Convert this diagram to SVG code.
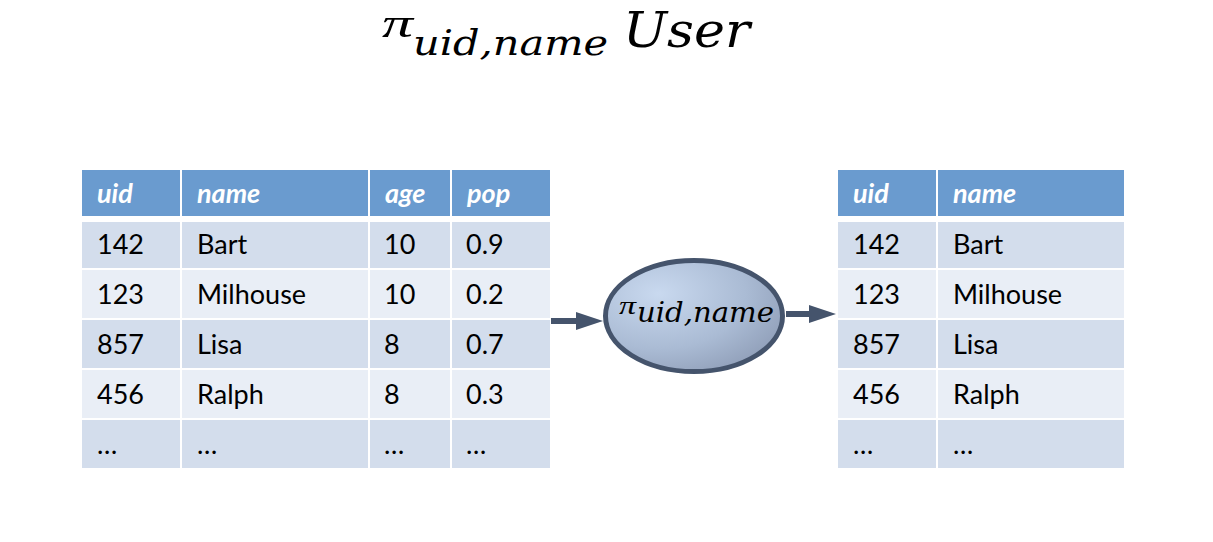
<svg xmlns="http://www.w3.org/2000/svg" width="1213" height="542" viewBox="0 0 1213 542">
<style>
.hd{fill:#6A9BCF}
.d{fill:#D3DDEC}
.l{fill:#E9EEF6}
.ht{font-family:Lato,"Open Sans",sans-serif;font-size:27px;font-weight:bold;font-style:italic;fill:#FFFFFF}
.ct{font-family:Lato,"Open Sans",sans-serif;font-size:27px;fill:#000000}
.m{font-family:"DejaVu Serif","Liberation Serif",serif;font-style:italic;fill:#000000}
.pi{font-family:"Liberation Serif","DejaVu Serif",serif;font-style:italic;fill:#000000}
.conn{stroke:#45546C;stroke-width:6;fill:none}
</style>
<defs>
<marker id="ah" viewBox="0 0 27 18" markerWidth="27" markerHeight="18" refX="0" refY="9" markerUnits="userSpaceOnUse" orient="auto">
<path d="M0,0 L27,9 L0,18 z" fill="#45546C"/>
</marker>
<radialGradient id="eg" cx="0.3" cy="0.3" r="0.9">
<stop offset="0" stop-color="#C9D9EF"/>
<stop offset="0.55" stop-color="#AABBD4"/>
<stop offset="1" stop-color="#8896B0"/>
</radialGradient>
</defs>
<rect width="1213" height="542" fill="#FFFFFF"/>

<g id="title">
<text class="pi" x="382" y="37" font-size="41" textLength="31" lengthAdjust="spacingAndGlyphs">π</text>
<text class="m" x="413" y="55" font-size="36" textLength="195" lengthAdjust="spacingAndGlyphs">uid,name</text>
<text class="m" x="623" y="47" font-size="48" textLength="127" lengthAdjust="spacingAndGlyphs">User</text>
</g>

<g id="user-table">
<rect class="hd" x="82" y="170" width="98" height="46"/>
<rect class="hd" x="182" y="170" width="186" height="46"/>
<rect class="hd" x="370" y="170" width="80" height="46"/>
<rect class="hd" x="452" y="170" width="98" height="46"/>
<text class="ht" x="97" y="203">uid</text>
<text class="ht" x="197" y="203">name</text>
<text class="ht" x="385" y="203">age</text>
<text class="ht" x="467" y="203">pop</text>

<rect class="d" x="82" y="222" width="98" height="46"/>
<rect class="d" x="182" y="222" width="186" height="46"/>
<rect class="d" x="370" y="222" width="80" height="46"/>
<rect class="d" x="452" y="222" width="98" height="46"/>
<rect class="l" x="82" y="270" width="98" height="48"/>
<rect class="l" x="182" y="270" width="186" height="48"/>
<rect class="l" x="370" y="270" width="80" height="48"/>
<rect class="l" x="452" y="270" width="98" height="48"/>
<rect class="d" x="82" y="320" width="98" height="48"/>
<rect class="d" x="182" y="320" width="186" height="48"/>
<rect class="d" x="370" y="320" width="80" height="48"/>
<rect class="d" x="452" y="320" width="98" height="48"/>
<rect class="l" x="82" y="370" width="98" height="48"/>
<rect class="l" x="182" y="370" width="186" height="48"/>
<rect class="l" x="370" y="370" width="80" height="48"/>
<rect class="l" x="452" y="370" width="98" height="48"/>
<rect class="d" x="82" y="420" width="98" height="48"/>
<rect class="d" x="182" y="420" width="186" height="48"/>
<rect class="d" x="370" y="420" width="80" height="48"/>
<rect class="d" x="452" y="420" width="98" height="48"/>

<text class="ct" x="97" y="254">142</text><text class="ct" x="197" y="254">Bart</text><text class="ct" x="384" y="254">10</text><text class="ct" x="466" y="254">0.9</text>
<text class="ct" x="97" y="304">123</text><text class="ct" x="197" y="304">Milhouse</text><text class="ct" x="384" y="304">10</text><text class="ct" x="466" y="304">0.2</text>
<text class="ct" x="97" y="354">857</text><text class="ct" x="197" y="354">Lisa</text><text class="ct" x="384" y="354">8</text><text class="ct" x="466" y="354">0.7</text>
<text class="ct" x="97" y="404">456</text><text class="ct" x="197" y="404">Ralph</text><text class="ct" x="384" y="404">8</text><text class="ct" x="466" y="404">0.3</text>
<text class="ct" x="97" y="454">…</text><text class="ct" x="197" y="454">…</text><text class="ct" x="384" y="454">…</text><text class="ct" x="466" y="454">…</text>
</g>

<g id="result-table">
<rect class="hd" x="838" y="170" width="98" height="46"/>
<rect class="hd" x="938" y="170" width="186" height="46"/>
<text class="ht" x="853" y="203">uid</text>
<text class="ht" x="953" y="203">name</text>
<rect class="d" x="838" y="222" width="98" height="46"/>
<rect class="d" x="938" y="222" width="186" height="46"/>
<rect class="l" x="838" y="270" width="98" height="48"/>
<rect class="l" x="938" y="270" width="186" height="48"/>
<rect class="d" x="838" y="320" width="98" height="48"/>
<rect class="d" x="938" y="320" width="186" height="48"/>
<rect class="l" x="838" y="370" width="98" height="48"/>
<rect class="l" x="938" y="370" width="186" height="48"/>
<rect class="d" x="838" y="420" width="98" height="48"/>
<rect class="d" x="938" y="420" width="186" height="48"/>
<text class="ct" x="853" y="254">142</text><text class="ct" x="953" y="254">Bart</text>
<text class="ct" x="853" y="304">123</text><text class="ct" x="953" y="304">Milhouse</text>
<text class="ct" x="853" y="354">857</text><text class="ct" x="953" y="354">Lisa</text>
<text class="ct" x="853" y="404">456</text><text class="ct" x="953" y="404">Ralph</text>
<text class="ct" x="853" y="454">…</text><text class="ct" x="953" y="454">…</text>
</g>

<g id="projection">
<ellipse cx="694" cy="316" rx="88.5" ry="55.5" fill="url(#eg)" stroke="#45546C" stroke-width="5"/>
<text class="pi" x="619" y="314" font-size="26" textLength="17" lengthAdjust="spacingAndGlyphs">π</text>
<text class="m" x="637" y="322" font-size="27" textLength="137" lengthAdjust="spacingAndGlyphs">uid,name</text>
</g>

<g id="connectors">
<line class="conn" x1="551" y1="321" x2="576" y2="321" marker-end="url(#ah)"/>
<line class="conn" x1="786" y1="314" x2="809" y2="314" marker-end="url(#ah)"/>
</g>
</svg>
